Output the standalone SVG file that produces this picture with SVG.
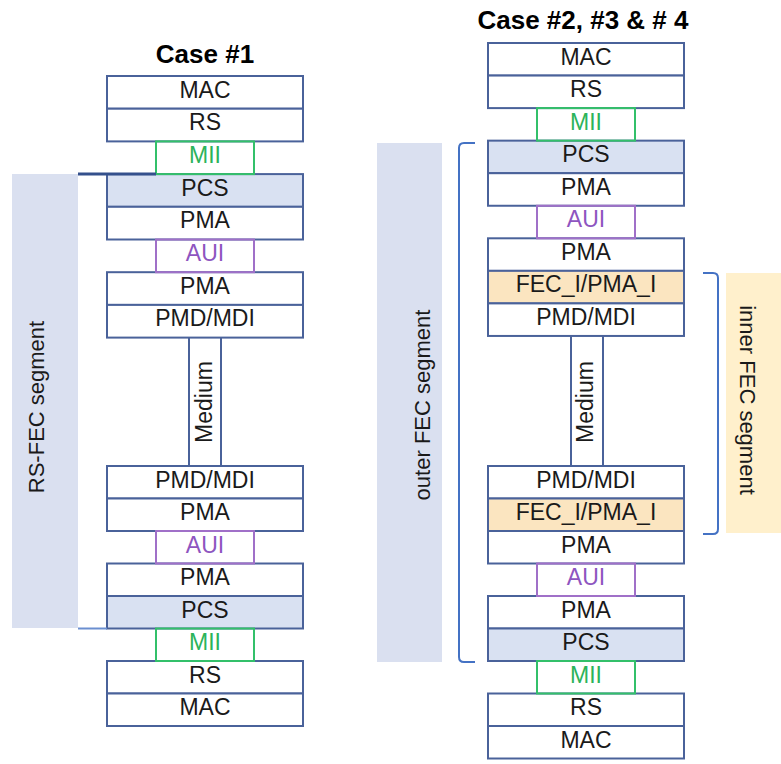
<svg xmlns="http://www.w3.org/2000/svg" width="781" height="764" viewBox="0 0 781 764">
<style>
.box{fill:#ffffff;stroke:#4a629a;stroke-width:2}
.pcs{fill:#d9e1f2;stroke:#4a629a;stroke-width:2}
.fec{fill:#fbe5c0;stroke:#4a629a;stroke-width:2}
.mii{fill:none;stroke:#33c06a;stroke-width:2}
.aui{fill:none;stroke:#a070c8;stroke-width:2}
.t{font-family:"Liberation Sans",Arial,sans-serif;font-size:23px;fill:#1a1a1a;text-anchor:middle}
.tm{fill:#2cb35a}
.ta{fill:#8e55c0}
.title{font-family:"Liberation Sans",Arial,sans-serif;font-size:26px;font-weight:bold;fill:#000;text-anchor:middle}
.seg{font-family:"Liberation Sans",Arial,sans-serif;font-size:22px;fill:#1a1a1a;text-anchor:middle}
.med{stroke:#4a629a;stroke-width:2;fill:none}
.br{stroke:#4472c4;stroke-width:2;fill:none}
</style>

<!-- background segment bands -->
<g id="rsfec-band"><rect x="12" y="174" width="66" height="454" fill="#dae0f0"/>
<text class="seg" transform="translate(44,407) rotate(-90)">RS-FEC  segment</text></g>
<g id="outer-band"><rect x="377" y="143" width="65" height="519" fill="#dae0f0"/>
<text class="seg" transform="translate(430,405) rotate(-90)">outer FEC segment</text></g>
<g id="inner-band"><rect x="726" y="273" width="55" height="260" fill="#fff0cc"/>
<text class="seg" transform="translate(740,400) rotate(90)">inner FEC segment</text></g>

<text class="title" x="205" y="63">Case #1</text>
<text class="title" x="583" y="29">Case #2, #3 &amp; # 4</text>

<!-- Case 1 top stack -->
<g id="c1-mac-top"><rect class="box" x="107" y="76" width="196" height="32.7"/><text class="t" x="205" y="97.5">MAC</text></g>
<g id="c1-rs-top"><rect class="box" x="107" y="108.7" width="196" height="32.7"/><text class="t" x="205" y="130.2">RS</text></g>
<g id="c1-pcs-top"><rect class="pcs" x="107" y="174.1" width="196" height="32.7"/><text class="t" x="205" y="195.6">PCS</text></g>
<g id="c1-pma-top1"><rect class="box" x="107" y="206.8" width="196" height="32.7"/><text class="t" x="205" y="228.3">PMA</text></g>
<g id="c1-pma-top2"><rect class="box" x="107" y="272.2" width="196" height="32.7"/><text class="t" x="205" y="293.7">PMA</text></g>
<g id="c1-pmd-top"><rect class="box" x="107" y="304.9" width="196" height="32.7"/><text class="t" x="205" y="326.4">PMD/MDI</text></g>
<g id="c1-mii-top"><rect class="mii" x="156" y="141.4" width="98" height="32.7"/><text class="t tm" x="205" y="162.9">MII</text></g>
<g id="c1-aui-top"><rect class="aui" x="156" y="239.5" width="98" height="32.7"/><text class="t ta" x="205" y="261">AUI</text></g>

<!-- Case 1 bottom stack -->
<g id="c1-pmd-bot"><rect class="box" x="107" y="466" width="196" height="32.5"/><text class="t" x="205" y="487.5">PMD/MDI</text></g>
<g id="c1-pma-bot1"><rect class="box" x="107" y="498.5" width="196" height="32.5"/><text class="t" x="205" y="520">PMA</text></g>
<g id="c1-pma-bot2"><rect class="box" x="107" y="563.5" width="196" height="32.5"/><text class="t" x="205" y="585">PMA</text></g>
<g id="c1-pcs-bot"><rect class="pcs" x="107" y="596" width="196" height="32.5"/><text class="t" x="205" y="617.5">PCS</text></g>
<g id="c1-rs-bot"><rect class="box" x="107" y="661" width="196" height="32.5"/><text class="t" x="205" y="682.5">RS</text></g>
<g id="c1-mac-bot"><rect class="box" x="107" y="693.5" width="196" height="32.5"/><text class="t" x="205" y="715">MAC</text></g>
<g id="c1-aui-bot"><rect class="aui" x="156" y="531" width="98" height="32.5"/><text class="t ta" x="205" y="552.5">AUI</text></g>
<g id="c1-mii-bot"><rect class="mii" x="156" y="628.5" width="98" height="32.5"/><text class="t tm" x="205" y="650">MII</text></g>

<!-- Case 2 top stack -->
<g id="c2-mac-top"><rect class="box" x="488" y="43" width="196" height="32.55"/><text class="t" x="586" y="64.5">MAC</text></g>
<g id="c2-rs-top"><rect class="box" x="488" y="75.55" width="196" height="32.55"/><text class="t" x="586" y="97">RS</text></g>
<g id="c2-pcs-top"><rect class="pcs" x="488" y="140.65" width="196" height="32.55"/><text class="t" x="586" y="162.1">PCS</text></g>
<g id="c2-pma-top1"><rect class="box" x="488" y="173.2" width="196" height="32.55"/><text class="t" x="586" y="194.7">PMA</text></g>
<g id="c2-pma-top2"><rect class="box" x="488" y="238.3" width="196" height="32.55"/><text class="t" x="586" y="259.8">PMA</text></g>
<g id="c2-fec-top"><rect class="fec" x="488" y="270.85" width="196" height="32.55"/><text class="t" x="586" y="292.3">FEC_I/PMA_I</text></g>
<g id="c2-pmd-top"><rect class="box" x="488" y="303.4" width="196" height="32.55"/><text class="t" x="586" y="324.9">PMD/MDI</text></g>
<g id="c2-mii-top"><rect class="mii" x="537" y="108.1" width="98" height="32.55"/><text class="t tm" x="586" y="129.6">MII</text></g>
<g id="c2-aui-top"><rect class="aui" x="537" y="205.75" width="98" height="32.55"/><text class="t ta" x="586" y="227.2">AUI</text></g>

<!-- Case 2 bottom stack -->
<g id="c2-pmd-bot"><rect class="box" x="488" y="466" width="196" height="32.5"/><text class="t" x="586" y="487.5">PMD/MDI</text></g>
<g id="c2-fec-bot"><rect class="fec" x="488" y="498.5" width="196" height="32.5"/><text class="t" x="586" y="520">FEC_I/PMA_I</text></g>
<g id="c2-pma-bot1"><rect class="box" x="488" y="531" width="196" height="32.5"/><text class="t" x="586" y="552.5">PMA</text></g>
<g id="c2-pma-bot2"><rect class="box" x="488" y="596" width="196" height="32.5"/><text class="t" x="586" y="617.5">PMA</text></g>
<g id="c2-pcs-bot"><rect class="pcs" x="488" y="628.5" width="196" height="32.5"/><text class="t" x="586" y="650">PCS</text></g>
<g id="c2-rs-bot"><rect class="box" x="488" y="693.5" width="196" height="32.5"/><text class="t" x="586" y="715">RS</text></g>
<g id="c2-mac-bot"><rect class="box" x="488" y="726" width="196" height="32.5"/><text class="t" x="586" y="747.5">MAC</text></g>
<g id="c2-aui-bot"><rect class="aui" x="537" y="563.5" width="98" height="32.5"/><text class="t ta" x="586" y="585">AUI</text></g>
<g id="c2-mii-bot"><rect class="mii" x="537" y="661" width="98" height="32.5"/><text class="t tm" x="586" y="682.5">MII</text></g>

<!-- connectors -->
<g id="connectors">
<line class="med" x1="189" y1="337.6" x2="189" y2="466"/>
<line class="med" x1="221" y1="337.6" x2="221" y2="466"/>
<line class="med" x1="571" y1="336" x2="571" y2="466"/>
<line class="med" x1="603" y1="336" x2="603" y2="466"/>
<line x1="78" y1="174.1" x2="156" y2="174.1" stroke="#34508c" stroke-width="3"/>
<line x1="78" y1="628.5" x2="107" y2="628.5" stroke="#6b8fd0" stroke-width="2"/>
<path class="br" d="M475,143 H464 Q459,143 459,148 V657 Q459,662 464,662 H475"/>
<path class="br" d="M703,273 H713 Q718,273 718,278 V529 Q718,534 713,534 H703"/>
</g>
<text class="t" transform="translate(212,402) rotate(-90)">Medium</text>
<text class="t" transform="translate(593,402) rotate(-90)">Medium</text>
</svg>
